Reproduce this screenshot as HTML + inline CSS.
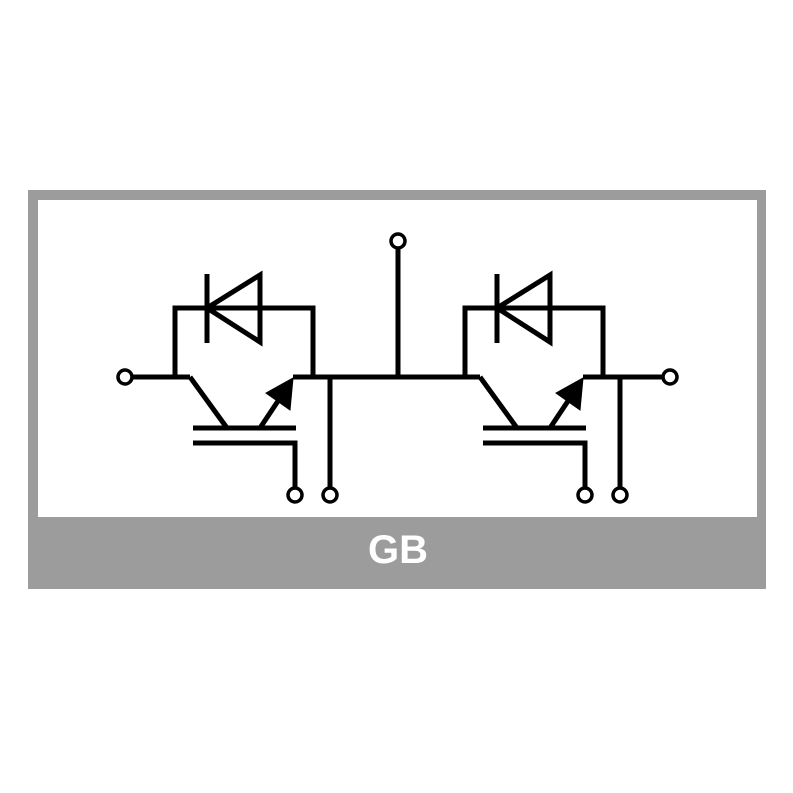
<!DOCTYPE html>
<html><head><style>body{margin:0;background:#fff}svg{display:block}</style></head><body>
<svg width="793" height="793" viewBox="0 0 793 793" xmlns="http://www.w3.org/2000/svg">
<rect x="28" y="190" width="738" height="399" fill="#9c9c9c"/>
<rect x="38" y="200" width="719" height="317" fill="#fff"/>
<text x="398" y="563" font-family="Liberation Sans, sans-serif" font-weight="bold" font-size="40" fill="#fff" text-anchor="middle">GB</text>
<g stroke="#000" stroke-width="5" fill="none">
<line x1="398" y1="248" x2="398" y2="377"/>
<circle cx="398" cy="241" r="7" stroke-width="3.5"/>
<line x1="296" y1="377" x2="480" y2="377"/>
<g id="u">
<line x1="175" y1="377" x2="190" y2="377"/>
<polyline points="175,377 175,308 313,308 313,377"/>
<line x1="207" y1="274" x2="207" y2="343"/>
<polygon points="207,308 260,275 260,342"/>
<polyline points="190,377 227,428"/>
<line x1="193" y1="428" x2="296" y2="428"/>
<polyline points="193,443 295,443 295,489"/>
<circle cx="295" cy="495" r="7" stroke-width="3.5"/>
<line x1="330" y1="377" x2="330" y2="489"/>
<circle cx="330" cy="495" r="7" stroke-width="3.5"/>
<line x1="260" y1="428" x2="280" y2="398"/>
<polygon points="293,378 266,393 290,410" fill="#000" stroke-width="1"/>
<line x1="293" y1="377" x2="330" y2="377"/>
</g>
<use href="#u" transform="translate(290,0)"/>
<line x1="132" y1="377" x2="175" y2="377"/>
<circle cx="125" cy="377" r="7" stroke-width="3.5"/>
<line x1="620" y1="377" x2="663" y2="377"/>
<circle cx="670" cy="377" r="7" stroke-width="3.5"/>
</g>
</svg>
</body></html>
